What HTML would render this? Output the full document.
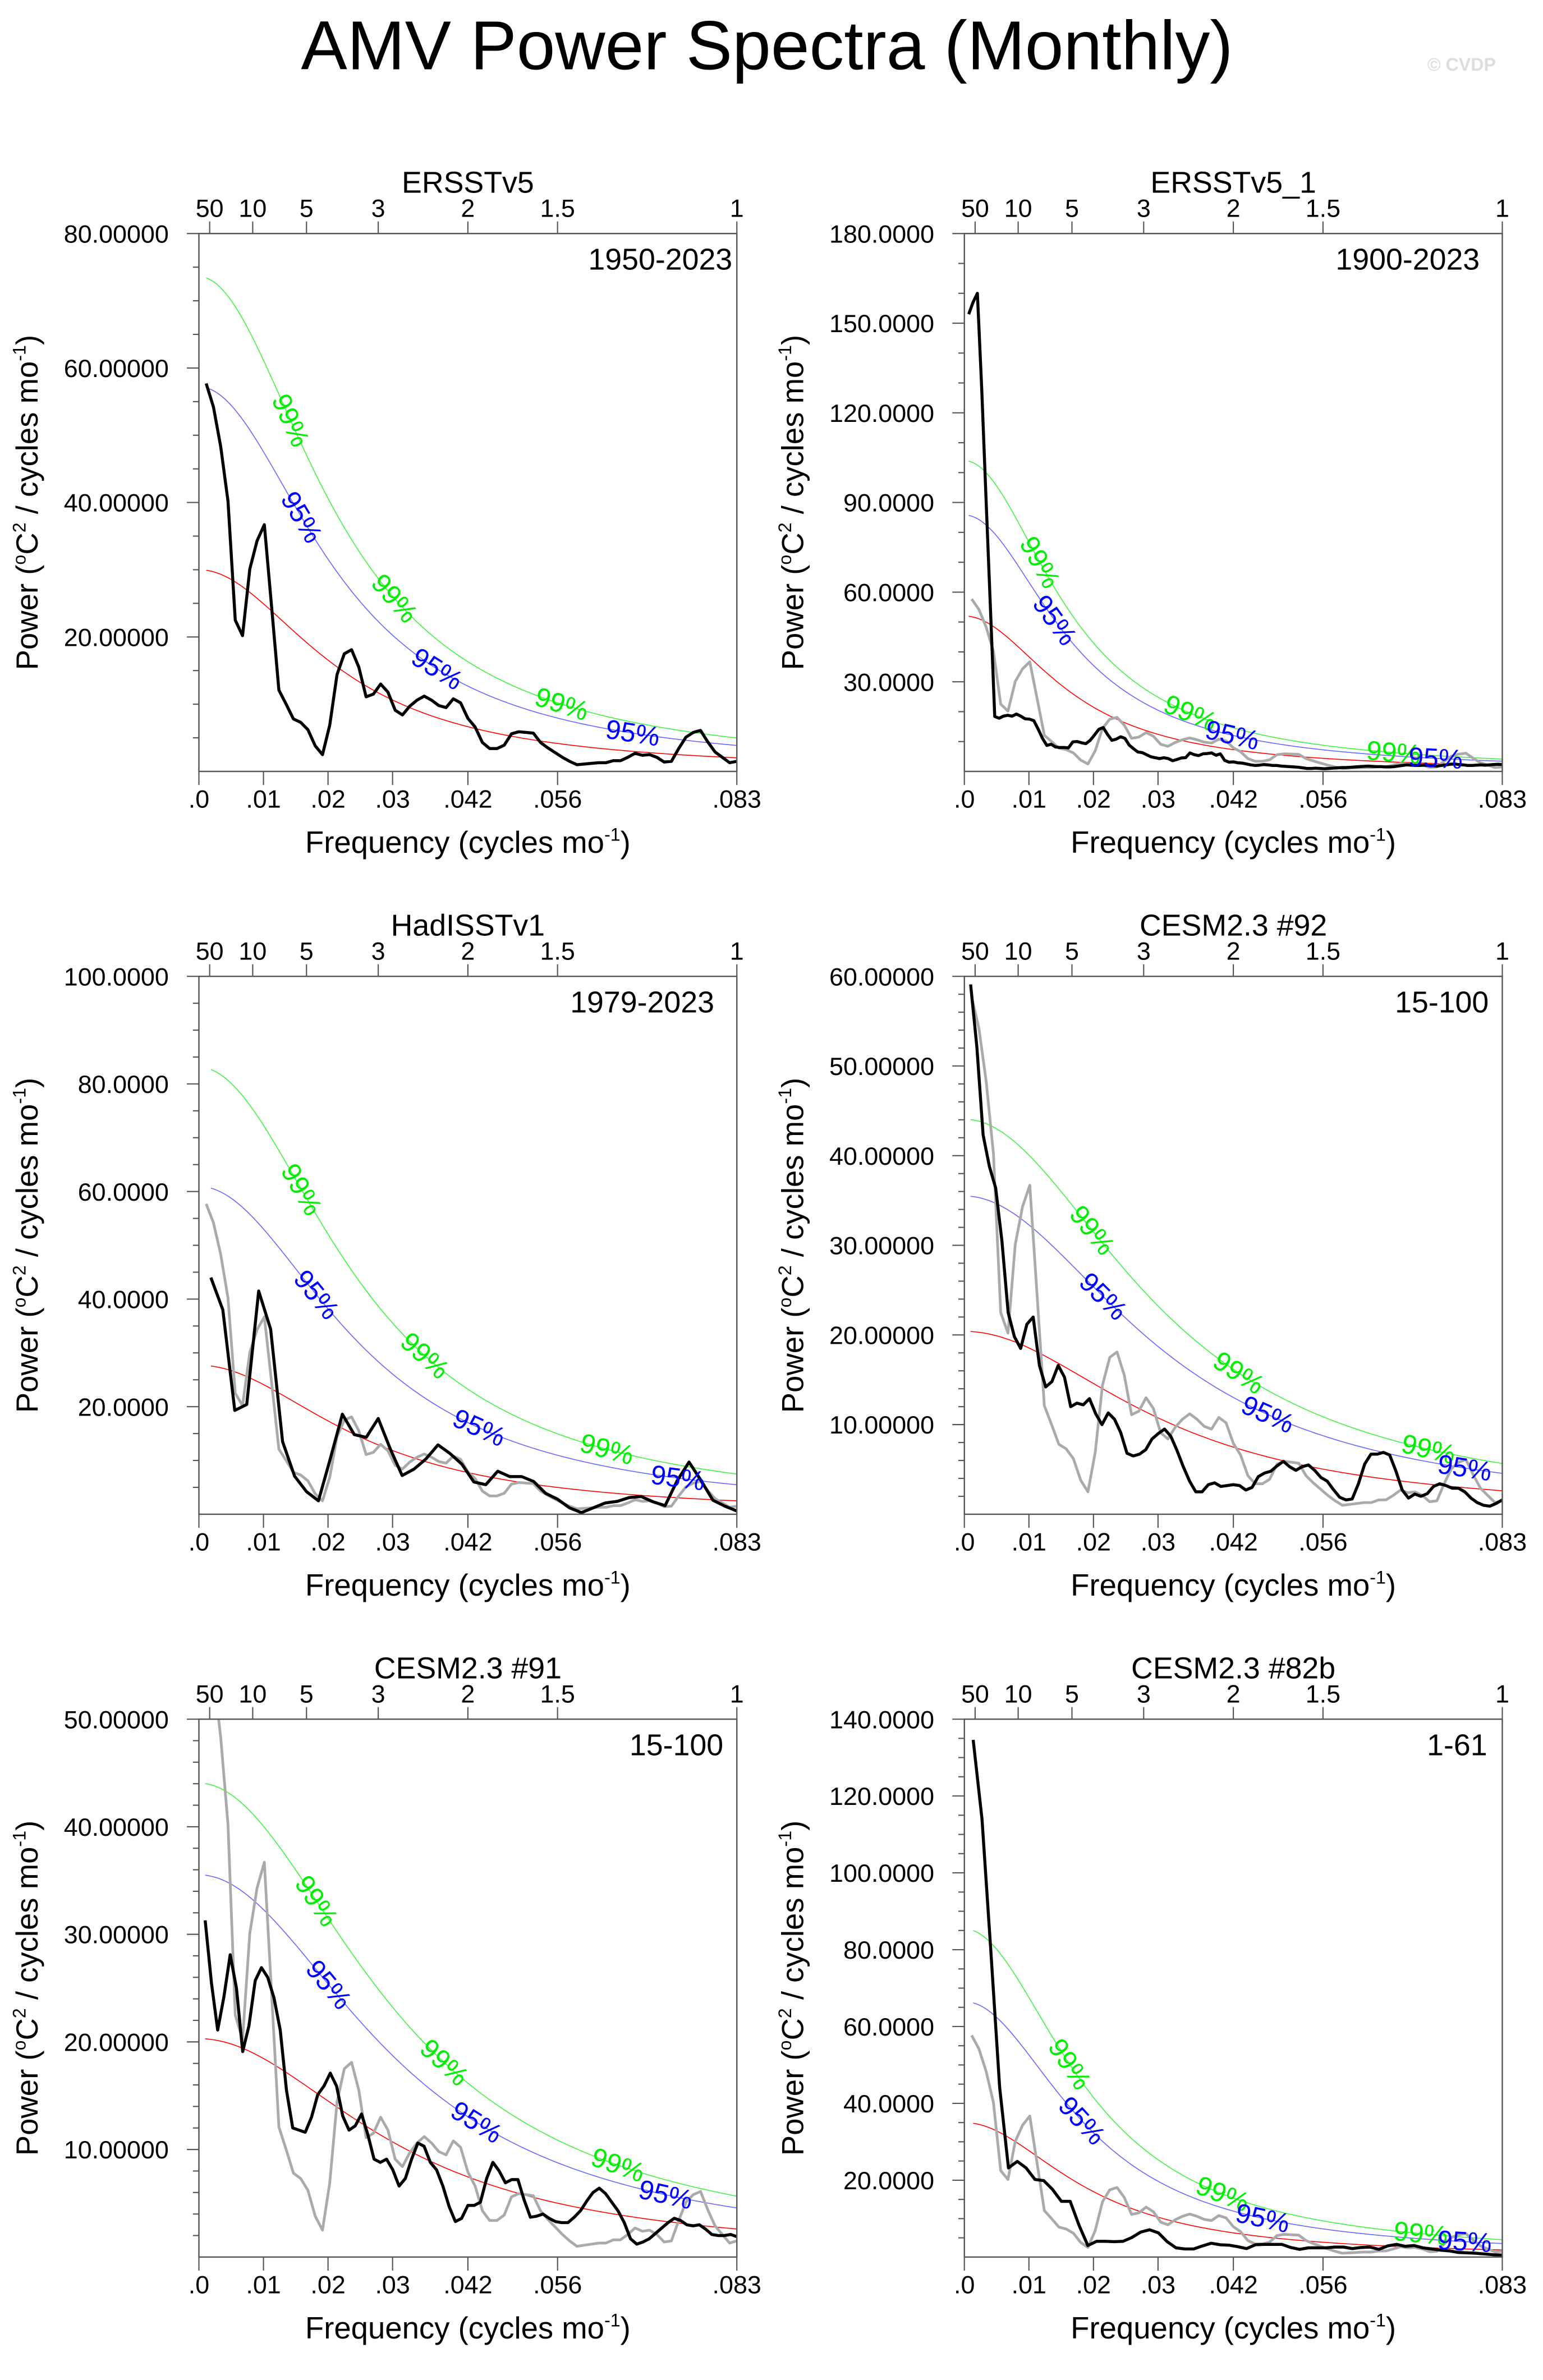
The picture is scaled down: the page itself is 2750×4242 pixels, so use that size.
<!DOCTYPE html>
<html><head><meta charset="utf-8"><title>AMV Power Spectra (Monthly)</title>
<style>
html,body{margin:0;padding:0;background:#fff;}
svg{display:block;font-family:"Liberation Sans",sans-serif;}
</style></head>
<body>
<svg id="fig" xmlns="http://www.w3.org/2000/svg" width="2750" height="4242" viewBox="0 0 1024 1579.6">
<rect x="0" y="0" width="1024" height="1579.6" fill="#fff"/>
<text x="509" y="46" font-size="46" text-anchor="middle" fill="#000">AMV Power Spectra (Monthly)</text>
<text x="970" y="47" font-size="12" font-weight="bold" text-anchor="middle" fill="#ddd">© CVDP</text>
</svg>
<script>
// ---- data ----
const panelTitles = ["ERSSTv5","ERSSTv5_1","HadISSTv1","CESM2.3 #92","CESM2.3 #91","CESM2.3 #82b"];
const periodLabels = ["1950-2023","1900-2023","1979-2023","15-100","15-100","1-61"];
const obsSpec = [57.7,54.2,48.3,40.2,22.5,20.2,30.1,34.3,36.7,24.5,12.1,10.0,7.8,7.3,6.2,3.8,2.5,6.9,14.4,17.5,18.1,15.5,11.1,11.5,13.0,11.8,9.1,8.4,9.7,10.6,11.2,10.6,9.8,9.5,10.8,10.2,7.9,6.6,4.3,3.4,3.4,3.9,5.6,5.9,5.8,5.7,4.3,3.5,2.8,2.1,1.5,1.0,1.1,1.2,1.3,1.3,1.6,1.6,2.1,2.7,2.4,2.5,2.1,1.4,1.5,3.4,5.1,5.8,6.1,4.4,2.9,2.1,1.3,1.5];
const spec2 = [153,157,160,128,91,55,18.4,17.8,18.5,18.8,18.5,19.2,18.5,17.6,17.5,17.0,14.2,11.1,8.7,9.1,8.2,8.0,8.0,7.9,9.9,10.0,9.6,9.3,10.4,12.2,14.1,14.7,12.4,10.4,10.8,11.6,11.1,8.8,7.6,6.5,6.3,5.6,4.9,4.6,4.3,4.6,4.3,3.6,4.0,4.5,4.6,6.2,5.6,5.3,5.9,6.0,6.2,5.4,5.9,3.7,3.1,3.2,2.9,2.8,2.5,2.2,2.0,2.1,2.3,2.2,2.0,2.0,1.8,1.7,1.6,1.5,1.4,1.2,1.0,1.0,1.1,1.0,0.9,1.0,1.1,1.2,1.3,1.3,1.4,1.5,1.6,1.7,1.8,1.7,1.6,1.6,1.5,1.5,1.6,1.8,2.0,2.2,2.1,2.0,2.0,2.1,2.0,1.9,1.8,2.0,2.2,2.4,2.5,2.3,2.2,2.0,2.0,2.1,2.2,2.1,2.2,2.3,2.4,2.3];
const spec3 = [44.0,38.0,19.3,20.4,41.5,34.4,13.5,7.1,4.2,2.5,10.4,18.6,14.8,14.3,17.8,12.2,7.2,8.4,10.3,12.9,11.3,9.3,6.0,5.5,8.0,7.0,7.0,6.1,3.9,2.8,1.2,0.3,1.2,2.1,2.4,3.1,3.3,2.3,1.6,6.2,9.7,6.3,2.6,1.5,0.6];
const spec4 = [59.1,52.1,42.3,38.8,36.4,30.5,22.5,19.8,18.5,21.2,22.0,16.6,14.2,14.8,16.6,15.3,12.0,12.4,12.2,12.9,11.2,10.0,11.3,10.6,9.1,6.8,6.5,6.7,7.2,8.4,9.0,9.5,8.7,7.1,5.3,3.7,2.5,2.5,3.3,3.5,3.1,3.2,3.3,3.2,2.7,3.0,4.2,4.6,4.8,5.4,5.9,5.3,4.9,5.3,5.5,4.9,4.1,3.7,2.75,1.9,1.6,1.7,3.4,5.6,6.7,6.7,6.9,6.6,4.8,2.7,1.8,2.25,2.0,2.3,3.1,3.4,3.2,2.9,2.9,2.5,1.8,1.3,1.0,0.9,1.2,1.6];
const spec5 = [31.3,25.5,21.1,24.2,28.1,25.0,19.1,21.5,25.7,26.9,26.0,24.1,21.1,15.5,12.0,11.8,11.6,13.0,15.1,15.9,17.1,15.9,13.1,11.8,12.2,13.3,11.4,9.1,8.8,9.1,8.1,6.6,7.3,9.1,10.6,10.3,8.8,8.1,6.6,4.7,3.3,3.6,4.8,4.8,5.1,7.3,8.8,8.0,6.9,7.2,7.2,5.3,3.7,3.8,4.0,3.6,3.3,3.2,3.2,3.7,4.3,5.2,6.0,6.4,5.9,5.1,4.3,3.2,1.7,1.2,1.4,1.7,2.2,2.7,3.2,3.6,3.4,3.0,2.9,3.0,2.6,2.1,2.0,2.0,2.1,1.9];
const spec6 = [134.6,114,79.7,44.2,23.2,24.9,23.2,20.2,19.9,17.6,14.5,14.5,8.3,3.0,4.1,4.1,4.0,4.1,5.1,6.5,7.1,6.3,4.0,2.4,2.1,2.1,2.9,3.6,3.2,3.1,2.7,2.2,3.2,3.3,3.3,3.3,2.5,2.0,2.4,2.4,2.4,2.6,2.6,2.2,2.5,2.6,2.0,2.9,3.3,2.8,3.0,2.4,2.1,1.8,1.6,1.2,1.1,1.0,0.8,0.6,0.5];
const panelSpecs = [obsSpec, spec2, spec3, spec4, spec5, spec6];
const showObs = [false,true,true,true,true,true];
const yMax = [80,180,100,60,50,140];
const yMajorStep = [20,30,20,10,10,20];
const yMinorStep = [5,10,5,2,2,5];
const yDecimals = [5,4,4,5,5,4];
const redZero = [30,52,27.7,20.4,20.3,35];
const redLag = [0.87,0.90,0.85,0.82,0.82,0.885];
const mult95 = [1.907,1.65,2.2,1.74,1.75,1.9];
const mult99 = [2.453,2.0,3.0,2.16,2.17,2.44];
const lab99Freq = [[0.0142,0.0303,0.0562],[0.0117,0.035,0.0665],[0.0159,0.035,0.0632],[0.0198,0.0425,0.0719],[0.0182,0.038,0.0649],[0.0163,0.040,0.0707]];
const lab95Freq = [[0.0159,0.0369,0.0672],[0.014,0.0415,0.073],[0.0182,0.0434,0.0742],[0.0215,0.047,0.0775],[0.0201,0.043,0.0723],[0.0182,0.0462,0.0775]];
const periodX = [486,982,474,988,480,987];
const bottomTickVals = [0,0.01,0.02,0.03,0.04167,0.05556,0.08333];
const bottomTickLabels = [".0",".01",".02",".03",".042",".056",".083"];
const topTickYears = [50,10,5,3,2,1.5,1];
const topTickLabels = ["50","10","5","3","2","1.5","1"];

// ---- layout ----
const NS = "http://www.w3.org/2000/svg";
const svg = document.getElementById('fig');
const colX = [132,640], rowY = [155,648,1141], PW = 357, PH = 357, FMAX = 1/12;

function mk(tag, attrs, parent){
  const e = document.createElementNS(NS, tag);
  for (const k in attrs) e.setAttribute(k, attrs[k]);
  parent.appendChild(e);
  return e;
}
function redNoise(p, f){
  const r = redLag[p];
  const s0 = redZero[p]*(1-r)/(1+r);
  return s0*(1-r*r)/(1+r*r-2*r*Math.cos(2*Math.PI*f));
}

for (let p=0; p<6; p++){
  const X0 = colX[p%2], T = rowY[Math.floor(p/2)], B = T+PH;
  const xs = f => X0 + f/FMAX*PW;
  const ys = v => B - v/yMax[p]*PH;
  const g = mk('g', {}, svg);
  
  

  const clipId = 'clip'+p;
  const cp = mk('clipPath', {id: clipId}, g);
  mk('rect', {x: X0, y: T, width: PW, height: PH}, cp);

  const tt = mk('text', {x: X0+PW/2, y: T-27, 'font-size': 20, 'text-anchor': 'middle'}, g);
  tt.textContent = panelTitles[p];
  
  

  const pl = mk('text', {x: periodX[p], y: T+24, 'font-size': 20, 'text-anchor': 'end'}, g);
  pl.textContent = periodLabels[p];
  
  

  for (let v = yMinorStep[p]; v <= yMax[p]+1e-9; v += yMinorStep[p]){
    const isMajor = Math.abs(v/yMajorStep[p] - Math.round(v/yMajorStep[p])) < 1e-6;
    const tk = mk('line', {x1: X0 - (isMajor?8:4), x2: X0, y1: ys(v), y2: ys(v), stroke: '#555', 'stroke-width': 0.8}, g);
    
    
    if (isMajor){
      const lt = mk('text', {x: X0-20, y: ys(v)+6, 'font-size': 16.7, 'text-anchor': 'end'}, g);
      lt.textContent = v.toFixed(yDecimals[p]);
      
      
    }
  }
  for (let i=0; i<bottomTickVals.length; i++){
    const x = xs(bottomTickVals[i]);
    const tk = mk('line', {x1: x, x2: x, y1: B, y2: B+9, stroke: '#555', 'stroke-width': 0.8}, g);
    
    
    const lt = mk('text', {x: x, y: B+24, 'font-size': 16.7, 'text-anchor': 'middle'}, g);
    lt.textContent = bottomTickLabels[i];
    
    
  }
  for (let i=0; i<topTickYears.length; i++){
    const x = xs(1/(12*topTickYears[i]));
    const tk = mk('line', {x1: x, x2: x, y1: T, y2: T-8, stroke: '#555', 'stroke-width': 0.8}, g);
    
    
    const lt = mk('text', {x: x, y: T-11, 'font-size': 16.7, 'text-anchor': 'middle'}, g);
    lt.textContent = topTickLabels[i];
    
    
  }
  const xt = mk('text', {x: X0+PW/2, y: B+54, 'font-size': 20.3, 'text-anchor': 'middle'}, g);
  xt.innerHTML = 'Frequency (cycles mo<tspan dy="-8" font-size="12">-1</tspan><tspan dy="8">)</tspan>';
  
  
  const ytx = X0-107, yty = T+PH/2;
  const yt = mk('text', {x: ytx, y: yty, 'font-size': 20.3, 'text-anchor': 'middle', transform: 'rotate(-90 '+ytx+' '+yty+')'}, g);
  yt.innerHTML = 'Power (<tspan dy="-8" font-size="12">o</tspan><tspan dy="8">C</tspan><tspan dy="-8" font-size="12">2</tspan><tspan dy="8"> / cycles mo</tspan><tspan dy="-8" font-size="12">-1</tspan><tspan dy="8">)</tspan>';
  
  

  const cg = mk('g', {'clip-path': 'url(#'+clipId+')'}, g);
  
  

  const spec = panelSpecs[p];
  const f0 = 1/(12*spec.length);
  const curves = [[1,'#ff0000','red-noise-curve'],[mult95[p],'#3333ff','sig95-curve'],[mult99[p],'#00ee00','sig99-curve']];
  for (const [m, col, nm] of curves){
    const pts = [];
    for (let i=0; i<=200; i++){
      const f = f0 + (FMAX-f0)*i/200;
      pts.push(xs(f).toFixed(2)+','+ys(m*redNoise(p,f)).toFixed(2));
    }
    const pl2 = mk('polyline', {points: pts.join(' '), fill: 'none', stroke: col, 'stroke-width': 0.6, 'stroke-opacity': nm==='red-noise-curve'?1:0.75}, cg);
    
    
  }
  if (showObs[p]){
    const n = obsSpec.length;
    const pts = obsSpec.map((v,i)=> xs((i+1)/(12*n)).toFixed(2)+','+ys(v).toFixed(2));
    const og = mk('polyline', {points: pts.join(' '), fill: 'none', stroke: '#aaaaaa', 'stroke-width': 1.8, 'stroke-linejoin': 'round'}, cg);
    
    
  }
  {
    const n = spec.length;
    const pts = spec.map((v,i)=> xs((i+1)/(12*n)).toFixed(2)+','+ys(v).toFixed(2));
    const ml = mk('polyline', {points: pts.join(' '), fill: 'none', stroke: '#000', 'stroke-width': 2, 'stroke-linejoin': 'round'}, cg);
    
    
  }
  const labelSets = [[lab99Freq[p], mult99[p], '#00ee00', '99%', 'sig99-label'], [lab95Freq[p], mult95[p], '#0000ff', '95%', 'sig95-label']];
  for (const [freqs, m, col, txt, nm] of labelSets){
    for (const f of freqs){
      const x = xs(f), y = ys(m*redNoise(p,f));
      const df = 0.0008;
      const dx = xs(f+df)-xs(f-df), dy = ys(m*redNoise(p,f+df)) - ys(m*redNoise(p,f-df));
      const ang = Math.atan2(dy, dx)*180/Math.PI;
      const lt = mk('text', {x: x, y: y+6, 'font-size': 18, 'text-anchor': 'middle', fill: col, transform: 'rotate('+ang.toFixed(1)+' '+x.toFixed(2)+' '+y.toFixed(2)+')'}, g);
      lt.textContent = txt;
      
      
    }
  }
  const fr = mk('rect', {x: X0, y: T, width: PW, height: PH, fill: 'none', stroke: '#555', 'stroke-width': 0.9}, g);
  
  
}
</script>
</body></html>
